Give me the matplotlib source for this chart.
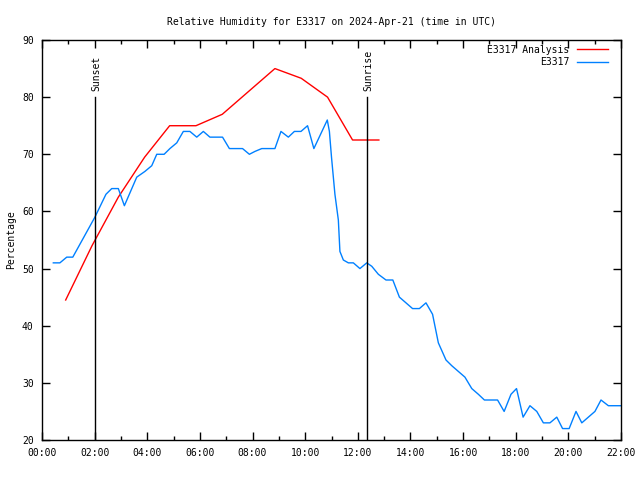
import matplotlib
matplotlib.use("Agg")
from matplotlib import pyplot as plt
from matplotlib.ticker import MultipleLocator, FuncFormatter

# times in hours UTC
obs_hours = [0.43, 0.68, 0.94, 1.17, 2.01, 2.43, 2.65, 2.90, 3.13, 3.60, 3.91, 4.17,
             4.36, 4.64, 4.86, 5.12, 5.37, 5.62, 5.88, 6.13, 6.38, 6.86, 7.12, 7.62,
             7.88, 8.09, 8.35, 8.85, 9.08, 9.36, 9.59, 9.84, 10.09, 10.33, 10.84, 10.92,
             11.00, 11.13, 11.26, 11.32, 11.45, 11.64, 11.83, 12.08, 12.34, 12.53, 12.78,
             13.07, 13.33, 13.58, 13.83, 14.08, 14.34, 14.59, 14.84, 15.06, 15.35, 15.57,
             15.82, 16.07, 16.33, 16.58, 16.81, 17.31, 17.56, 17.82, 18.03, 18.28, 18.54,
             18.80, 19.05, 19.30, 19.56, 19.78, 20.03, 20.29, 20.51, 20.76, 21.01, 21.24,
             21.52, 22.02]
obs_rh = [51, 51, 52, 52, 59, 63, 64, 64, 61, 66, 67, 68,
          70, 70, 71, 72, 74, 74, 73, 74, 73, 73, 71, 71,
          70, 70.5, 71, 71, 74, 73, 74, 74, 75, 71, 76, 74,
          69.5, 63, 58.5, 53, 51.5, 51, 51, 50, 51, 50.4, 49,
          48, 48, 45, 44, 43, 43, 44, 42, 37, 34, 33,
          32, 31, 29, 28, 27, 27, 25, 28, 29, 24, 26,
          25, 23, 23, 24, 22, 22, 25, 23, 24, 25, 27,
          26, 26]

ana_hours = [0.9, 1.9, 2.9, 3.9, 4.85, 5.85, 6.85, 7.85, 8.85, 9.85, 10.85, 11.8, 12.8]
ana_rh = [44.5, 54, 62.5, 69.5, 75, 75, 77, 81, 85, 83.3, 80, 72.5, 72.5]

sunset = 2.01
sunrise = 12.35

plt.rcParams["font.family"] = "DejaVu Sans Mono"
plt.rcParams["font.size"] = 7

fig = plt.figure(figsize=(6.4, 4.8), dpi=100)
ax = fig.add_axes([42 / 640, 40 / 480, 579 / 640, 400 / 480])

ax.plot(ana_hours, ana_rh, color="#ff0000", lw=1.0, label="E3317 Analysis")
ax.plot(obs_hours, obs_rh, color="#0080ff", lw=1.0, label="E3317")

for t, name in [(sunset, "Sunset"), (sunrise, "Sunrise")]:
    ax.plot([t, t], [20, 80], color="black", lw=1.0)
    ax.text(t + 0.05, 81, name, rotation=90, ha="center", va="bottom")

ax.set_xlim(0, 22)
ax.set_ylim(20, 90)
ax.xaxis.set_major_locator(MultipleLocator(2))
ax.xaxis.set_minor_locator(MultipleLocator(1))
ax.xaxis.set_major_formatter(FuncFormatter(lambda v, p: "%02d:00" % int(round(v))))
ax.yaxis.set_major_locator(MultipleLocator(10))
ax.tick_params(which="both", direction="in", top=True, right=True, width=1)
ax.tick_params(which="major", length=6, pad=6)
ax.tick_params(which="minor", length=3)
for s in ax.spines.values():
    s.set_linewidth(1)

ax.set_ylabel("Percentage")
ax.yaxis.set_label_coords(-0.045, 0.5)
ax.set_title("Relative Humidity for E3317 on 2024-Apr-21 (time in UTC)", fontsize=7, pad=11)
ax.legend(loc="upper right", bbox_to_anchor=(0.99, 1.005), frameon=False,
          markerfirst=False, handlelength=3.2, borderaxespad=0.3,
          labelspacing=0.25, handletextpad=0.8)

fig.savefig("out.png", dpi=100)
